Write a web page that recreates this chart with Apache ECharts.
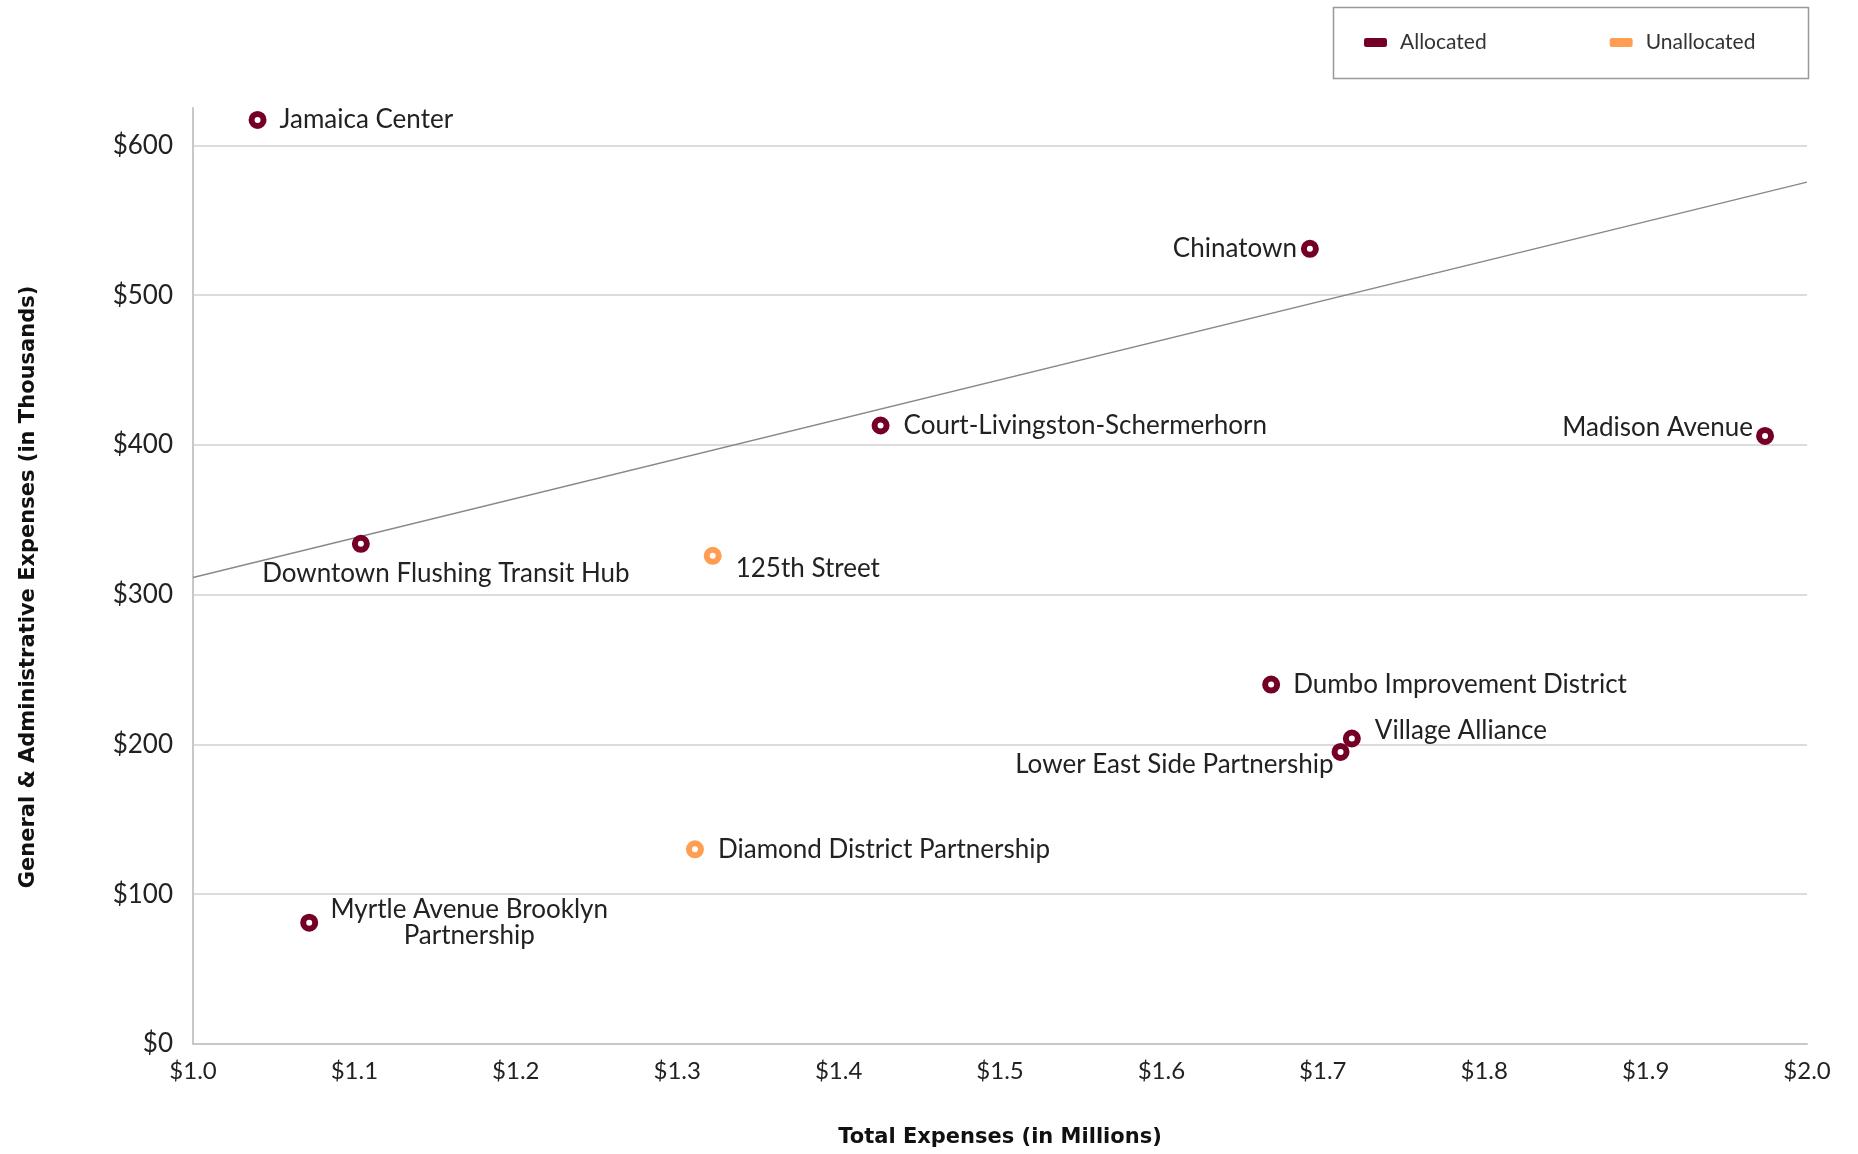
<!DOCTYPE html>
<html>
<head>
<meta charset="utf-8">
<script src="https://cdn.jsdelivr.net/npm/echarts@6/dist/echarts.min.js"></script>
<style>
html,body{margin:0;padding:0;background:#fff;}
#chart{width:1858px;height:1154px;}
</style>
</head>
<body>
<div id="chart"></div>
<script>
// ---- data ----
const names = ['Jamaica Center','Chinatown','Court-Livingston-Schermerhorn','Madison Avenue','Downtown Flushing Transit Hub','125th Street','Dumbo Improvement District','Village Alliance','Lower East Side Partnership','Diamond District Partnership','Myrtle Avenue Brooklyn\nPartnership'];
const totalExpenses = [1.040, 1.692, 1.426, 1.974, 1.104, 1.322, 1.668, 1.718, 1.711, 1.311, 1.072];
const gaExpenses = [617, 531, 413, 406, 334, 326, 240, 204, 195, 130, 81];
const group = ['Allocated','Allocated','Allocated','Allocated','Allocated','Unallocated','Allocated','Allocated','Allocated','Unallocated','Allocated'];
const groups = ['Allocated','Unallocated'];
const trendX = [1.0, 2.0];
const trendY = [311.5, 575.5];
const xTicks = [1.0, 2.0, 0.1];   // min, max, interval
const yTicks = [0, 625, 100];

// ---- styling ----
const colors = {Allocated:'#740026', Unallocated:'#FF9D52'};
const FONT = 'Lato';
const TITLE_FONT = 'DejaVu Sans';
const labelCfg = {
  'Jamaica Center':{position:'right',distance:13,offset:[0,0]},
  'Chinatown':{position:'left',distance:4,offset:[0,0]},
  'Court-Livingston-Schermerhorn':{position:'right',distance:14,offset:[0,0]},
  'Madison Avenue':{position:'left',distance:3,offset:[0,-8]},
  'Downtown Flushing Transit Hub':{position:'inside',offset:[85,30]},
  '125th Street':{position:'right',distance:14,offset:[0,13]},
  'Dumbo Improvement District':{position:'right',distance:13,offset:[0,0]},
  'Village Alliance':{position:'right',distance:14,offset:[0,-8]},
  'Lower East Side Partnership':{position:'left',distance:-2,offset:[0,13]},
  'Diamond District Partnership':{position:'right',distance:14,offset:[0,0]},
  'Myrtle Avenue Brooklyn\nPartnership':{position:'inside',offset:[160,0],align:'center'}
};

function seriesFor(g){
  const data = [];
  names.forEach((n,i)=>{
    if(group[i]!==g) return;
    const c = labelCfg[n];
    data.push({
      name:n,
      value:[totalExpenses[i], gaExpenses[i]],
      label:Object.assign({show:true, formatter:'{b}'}, c)
    });
  });
  return {
    name:g, type:'scatter', data:data, symbol:'circle', symbolSize:12,
    itemStyle:{color:'#fff', borderColor:colors[g], borderWidth:6, opacity:1},
    label:{color:'#222', fontFamily:FONT, fontSize:26, lineHeight:26},
    emphasis:{disabled:true}, z:5
  };
}

const chart = echarts.init(document.getElementById('chart'), null, {renderer:'canvas'});
chart.setOption({
  animation:false,
  backgroundColor:'#fff',
  color:[colors.Allocated, colors.Unallocated],
  grid:{left:193, right:51, top:108, bottom:110, containLabel:false, outerBoundsMode:'none'},
  graphic:[{type:'rect', left:1331, top:5, shape:{width:475, height:71}, style:{fill:'none', stroke:'#999', lineWidth:1.5}, z:1}],
  legend:{
    left:1359, top:27, itemWidth:23, itemHeight:9, itemGap:123, icon:'roundRect',
    data:groups.map(g=>({name:g, itemStyle:{color:colors[g], borderWidth:0}})),
    textStyle:{fontFamily:FONT, fontSize:21, color:'#333', padding:[0,0,0,8]}
  },
  xAxis:{
    type:'value', min:xTicks[0], max:xTicks[1], interval:xTicks[2],
    name:'Total Expenses (in Millions)', nameLocation:'middle', nameGap:83,
    nameTextStyle:{fontFamily:TITLE_FONT, fontWeight:'bold', fontSize:21, color:'#111'},
    axisLine:{show:true, lineStyle:{color:'#c8c8c8', width:2}},
    axisTick:{show:false},
    splitLine:{show:false},
    axisLabel:{fontFamily:FONT, fontSize:24, color:'#222', margin:15, formatter:v=>'$'+v.toFixed(1)}
  },
  yAxis:{
    type:'value', min:yTicks[0], max:yTicks[1], interval:yTicks[2],
    name:'General & Administrative Expenses (in Thousands)', nameLocation:'middle', nameGap:154,
    nameTextStyle:{fontFamily:TITLE_FONT, fontWeight:'bold', fontSize:21, color:'#111', padding:[0,22,0,0]},
    axisLine:{show:true, lineStyle:{color:'#c8c8c8', width:2}},
    axisTick:{show:false},
    splitLine:{show:true, showMaxLine:false, showMinLine:false, lineStyle:{color:'#dcdcdc', width:2}},
    axisLabel:{fontFamily:FONT, fontSize:26, color:'#222', margin:20, showMaxLabel:false, formatter:v=>'$'+v}
  },
  series:[
    {type:'line', name:'trend', data:trendX.map((x,i)=>[x,trendY[i]]), symbol:'none', silent:true,
     lineStyle:{color:'#888', width:1.3}, z:2, legendHoverLink:false},
    seriesFor('Allocated'),
    seriesFor('Unallocated')
  ]
});
</script>
</body>
</html>
